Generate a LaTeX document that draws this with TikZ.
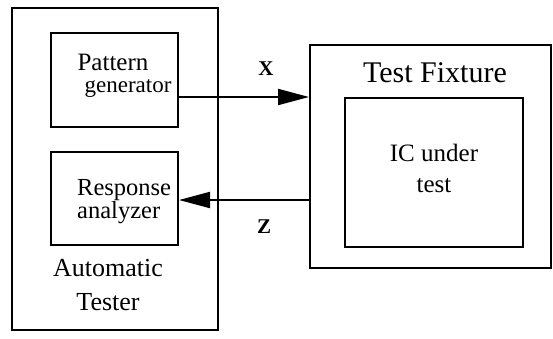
\documentclass[tikz,border=0pt]{standalone}
\usepackage{fontspec}
\setmainfont{Liberation Serif}
\usetikzlibrary{arrows.meta}
\begin{document}
\begin{tikzpicture}[x=1pt,y=-1pt,
  box/.style={draw,line width=2pt,inner sep=0pt,rectangle},
  lbl/.style={inner sep=0pt,align=center},
  arr/.style={line width=2pt,-{Triangle[length=31pt,width=16pt]}}]
\useasboundingbox (0,0) rectangle (553,338);
\node[box,minimum width=206pt,minimum height=322pt] (at) at (115,169) {};
\node[box,minimum width=127pt,minimum height=94pt] (pg) at (114,80) {};
\node[box,minimum width=127pt,minimum height=93pt] (ra) at (114.5,198.5) {};
\node[box,minimum width=241pt,minimum height=223pt] (tf) at (430.5,156.5) {};
\node[box,minimum width=178pt,minimum height=149pt] (ic) at (434,172.5) {};
\node[lbl,font=\fontsize{25}{28}\selectfont] (pgt1) at (113,62) {Pattern};
\node[lbl,font=\fontsize{23}{28}\selectfont] (pgt2) at (128,89) {generator};
\node[lbl,font=\fontsize{24.5}{22}\selectfont,align=left,anchor=west] (rat) at (77,202) {Response\\analyzer};
\node[lbl,font=\fontsize{26}{34}\selectfont] (att) at (108,285) {Automatic\\Tester};
\node[lbl,font=\fontsize{30}{34}\selectfont] (tft) at (435,73) {Test Fixture};
\node[lbl,font=\fontsize{25}{31}\selectfont] (ict) at (434,168) {IC under\\test};
\coordinate (xa) at (0,97);
\coordinate (za) at (0,200);
\draw[arr] (pg.east |- xa) -- (tf.west |- xa);
\draw[arr] (tf.west |- za) -- (ra.east |- za);
\node[lbl,font=\fontsize{21}{24}\selectfont\bfseries] (xl) at (266,69) {X};
\node[lbl,font=\fontsize{21}{24}\selectfont\bfseries] (zl) at (264,227) {Z};
\end{tikzpicture}
\end{document}
